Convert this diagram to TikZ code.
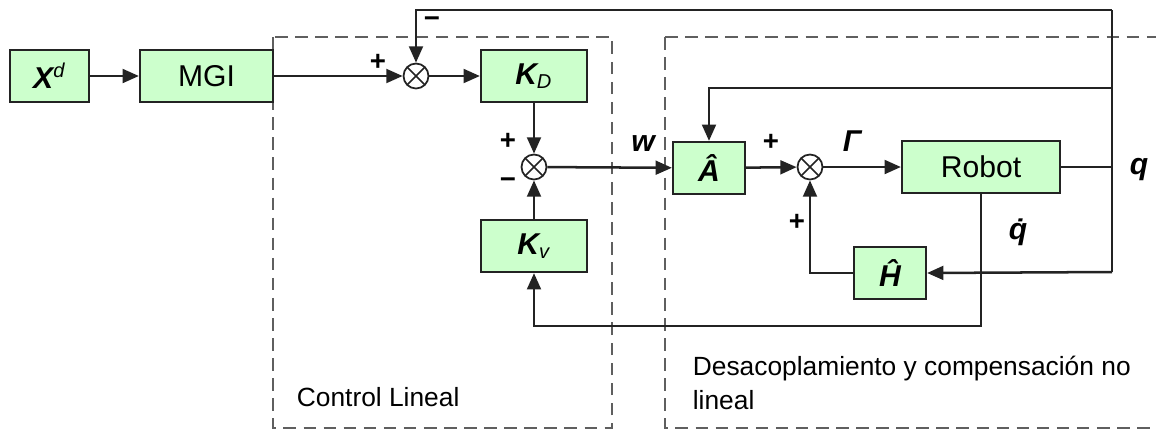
\documentclass[tikz,border=0pt]{standalone}
\usepackage{fontspec}
\setmainfont{Liberation Sans}
\usepackage{xcolor}
\usetikzlibrary{arrows.meta}
\definecolor{boxgreen}{RGB}{204,255,204}
\definecolor{lineg}{RGB}{35,35,35}
\definecolor{dashg}{RGB}{95,95,95}

\begin{document}
\begin{tikzpicture}[x=0.014cm, y=-0.014cm,
  blk/.style={draw=lineg, fill=boxgreen, line width=0.9pt, inner sep=0pt, minimum height=0.728cm, font=\fontsize{12}{14}\selectfont},
  sumj/.style={draw=lineg, circle, line width=0.7pt, minimum size=0.35cm, inner sep=0pt,
    path picture={\draw[line width=0.6pt] (path picture bounding box.north west) -- (path picture bounding box.south east)
      (path picture bounding box.north east) -- (path picture bounding box.south west);}},
  sig/.style={line width=1pt, draw=lineg, -{Triangle[length=6.5pt,width=5.5pt]}},
  wire/.style={line width=1pt, draw=lineg},
  lbl/.style={font=\fontsize{12}{14}\selectfont\bfseries\itshape},
  sgn/.style={font=\fontsize{11}{13}\selectfont\bfseries},
  region/.style={dash pattern=on 5pt off 3pt, line width=0.8pt, draw=dashg}]
\useasboundingbox (0,0) rectangle (1156,429);

\draw[region] (273,37) rectangle (612,428);
\draw[region] (665,37) -- (1170,37);
\draw[region] (665,37) -- (665,428) -- (1170,428);

\node[blk, minimum width=1.106cm] (Xd) at (49.5,76) {\bfseries\itshape X\textsuperscript{\mdseries d}};
\node[blk, minimum width=1.862cm] (MGI) at (206.5,76) {MGI};
\node[sumj] (s1) at (416,76) {};
\node[blk, minimum width=1.484cm] (Kp) at (534,76) {\bfseries\itshape K\textsubscript{\mdseries D}};
\node[sumj] (s2) at (534,167) {};
\node[blk, minimum width=1.484cm] (Kv) at (534,246) {\bfseries\itshape K\textsubscript{\mdseries v}};
\node[blk, minimum width=1.008cm] (A) at (709,168) {\bfseries\itshape \^A};
\node[sumj] (s3) at (810,167) {};
\node[blk, minimum width=2.212cm] (Robot) at (981,167) {Robot};
\node[blk, minimum width=1.008cm] (H) at (890,273) {\bfseries\itshape \^H};

\coordinate (qn) at (1112,167);
\coordinate (qt) at (1112,10);
\coordinate (qa) at (1112,88);
\coordinate (qh) at (1112,272);
\coordinate (qd) at (981,326);

\draw[sig] (Xd) -- (MGI);
\draw[sig] (MGI) -- (s1);
\draw[sig] (s1) -- (Kp);
\draw[sig] (Kp) -- (s2);
\draw[sig] (Kv) -- (s2);
\draw[sig] (s2) -- (A);
\draw[sig] (A) -- (s3);
\draw[sig] (s3) -- (Robot);
\draw[wire] (Robot) -- (qn);
\draw[wire] (qt) -- (qh);
\draw[sig] (qt) -| (s1.north);
\draw[sig] (qa) -| (A.north);
\draw[sig] (qh) -- (H.east);
\draw[sig] (H.west) -| (s3.south);
\draw[sig] (Robot.south) -- (qd) -| (Kv.south);

\node[sgn] (p1) at (378,62) {+};
\node[sgn] (m1) at (432,22) {−};
\node[sgn] (p2) at (508,141) {+};
\node[sgn] (m2) at (508,183) {−};
\node[sgn] (p3) at (771,142) {+};
\node[sgn] (p4) at (797,222) {+};
\node[lbl] (lw) at (643,144) {w};
\node[lbl] (lg) at (852,141) {Γ};
\node[lbl] (lq) at (1139,170) {q};
\node[lbl] (lqd) at (1018,232) {\.q};

\node[anchor=west, font=\fontsize{10.5}{12}\selectfont] (cl) at (288,397) {Control Lineal};
\node[anchor=west, align=left, font=\fontsize{10.5}{13.5}\selectfont] (dc) at (684,383) {Desacoplamiento y compensación no\\lineal};
\end{tikzpicture}
\end{document}
